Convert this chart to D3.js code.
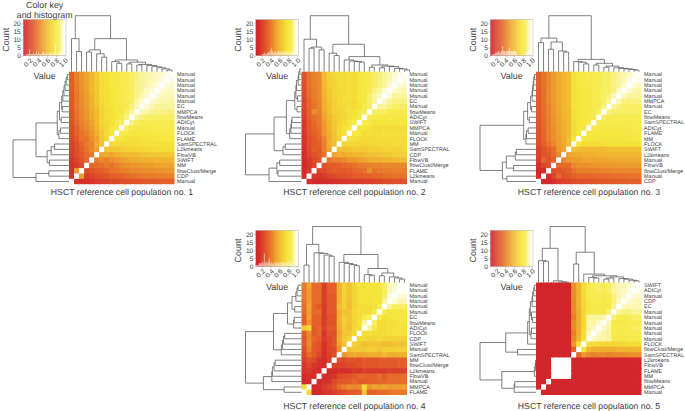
<!DOCTYPE html>
<html><head><meta charset="utf-8"><script src="https://cdn.jsdelivr.net/npm/d3@7"></script>
<style>html,body{margin:0;padding:0;background:#fff}svg{display:block}text{font-family:"Liberation Sans",Arial,sans-serif;text-rendering:geometricPrecision}</style>
</head><body><svg id="c" width="685" height="411"></svg>
<script>
const L = 0; // a leaf in a dendrogram
const titles = ["HSCT reference cell population no. 1","HSCT reference cell population no. 2","HSCT reference cell population no. 3","HSCT reference cell population no. 4","HSCT reference cell population no. 5"];
const labels1 = ["Manual","Manual","Manual","Manual","Manual","Manual","EC","MMPCA","flowMeans","ADICyt","Manual","FLOCK","FLAME","SamSPECTRAL","L2kmeans","FlowVB","SWIFT","MM","flowClust/Merge","CDP","Manual"];
const labels2 = ["Manual","Manual","Manual","Manual","Manual","EC","Manual","flowMeans","ADICyt","SWIFT","MMPCA","Manual","FLOCK","MM","SamSPECTRAL","CDP","FlowVB","flowClust/Merge","FLAME","L2kmeans","Manual"];
const labels3 = ["Manual","Manual","Manual","Manual","Manual","MMPCA","Manual","EC","flowMeans","SamSPECTRAL","ADICyt","FLAME","MM","FLOCK","SWIFT","L2kmeans","Manual","FlowVB","flowClust/Merge","Manual","CDP"];
const labels4 = ["Manual","Manual","Manual","Manual","Manual","Manual","EC","flowMeans","ADICyt","FLOCK","CDP","SWIFT","Manual","SamSPECTRAL","MM","flowClust/Merge","L2kmeans","FlowVB","Manual","MMPCA","FLAME"];
const labels5 = ["SWIFT","ADICyt","Manual","CDP","EC","Manual","Manual","Manual","Manual","Manual","Manual","FLOCK","flowClust/Merge","SamSPECTRAL","L2kmeans","FlowVB","FLAME","MM","flowMeans","MMPCA","Manual"];

// Upper-left triangles (percent similarity); the picture mirrors across the white diagonal.
const values1 = [
[33,42,48,52,58,66,74,76,80,82,84,86,88,90,92,93,94,95,96,98],
[32,42,48,52,58,66,74,76,80,82,84,86,88,90,92,93,94,95,97],
[32,41,47,52,58,66,73,76,80,82,84,86,88,91,92,93,95,97],
[31,41,47,52,58,65,73,76,79,82,84,86,88,91,92,95,97],
[30,40,46,50,57,65,72,76,78,80,83,86,88,91,94,96],
[30,40,46,50,56,64,72,75,78,80,83,85,88,93,96],
[29,39,45,50,56,63,70,75,77,80,82,84,90,94],
[28,38,44,48,54,60,70,74,76,79,81,88,92],
[27,37,44,48,54,60,70,74,76,79,86,90],
[26,36,42,46,52,60,70,73,76,84,88],
[25,33,41,44,50,58,68,72,80,84],
[24,33,38,42,48,55,66,74,78],
[23,30,38,38,46,52,66,72],
[21,28,34,40,42,54,64],
[20,26,32,38,44,52],
[18,25,30,36,40],
[16,22,28,34],
[14,18,24],
[14,50],
[15]];
const values2 = [
[28,38,42,44,60,68,72,74,74,76,74,78,82,84,88,90,92,94,96,98],
[26,38,42,44,60,68,70,74,74,76,74,78,80,84,88,90,92,94,97],
[26,38,42,44,60,68,70,74,74,76,74,78,80,84,88,90,92,96],
[25,37,41,44,58,66,70,72,74,76,74,78,82,84,90,92,97],
[25,36,41,44,58,66,70,72,74,76,74,78,80,88,92,95],
[22,34,40,43,56,64,68,72,74,74,72,78,82,88,92],
[22,34,38,43,56,62,68,72,72,74,74,76,84,88],
[20,33,46,42,54,62,68,70,72,76,76,82,86],
[19,32,37,40,52,60,66,70,72,74,78,84],
[18,30,35,40,50,58,66,70,74,78,82],
[18,30,34,38,48,58,66,72,76,80],
[17,28,32,36,48,56,64,72,76],
[16,26,30,34,44,54,64,70],
[15,26,30,32,42,56,62],
[14,24,32,30,42,52],
[13,22,28,30,38],
[12,18,24,28],
[11,16,22],
[12,18],
[13]];
const values3 = [
[32,38,44,50,54,58,62,76,80,82,84,84,86,88,88,90,92,93,95,98],
[32,38,44,50,54,58,62,76,80,82,84,84,86,88,88,90,92,94,97],
[32,38,44,50,54,58,62,76,79,82,82,84,86,88,88,90,92,96],
[31,37,44,50,54,58,62,76,79,80,82,84,86,88,88,90,95],
[31,37,44,50,54,58,62,76,78,80,82,84,86,88,90,94],
[30,37,44,49,54,58,62,76,78,80,82,84,86,88,92],
[30,36,43,49,53,58,62,76,78,80,82,84,86,90],
[29,36,43,49,53,58,60,75,78,80,82,84,88],
[29,36,42,48,52,57,60,75,78,80,82,86],
[28,35,42,48,52,56,60,74,78,80,84],
[28,35,42,47,52,56,60,74,78,82],
[27,34,42,46,52,56,60,74,80],
[26,34,42,46,50,54,62,78],
[25,32,38,44,50,54,62],
[22,28,32,36,48,52],
[20,27,30,36,44],
[18,34,28,34],
[14,22,26],
[11,13],
[12]];
const values4 = [
[40,52,36,36,20,32,32,56,70,64,70,76,76,78,78,78,88,94,96,99],
[40,50,36,36,20,32,32,56,70,64,70,76,76,78,78,78,88,94,97],
[40,50,36,36,20,30,30,56,68,64,70,76,76,76,78,78,88,97],
[38,50,36,36,20,30,30,56,68,62,70,76,76,76,78,78,92],
[36,52,34,30,18,30,30,60,68,60,70,74,74,74,76,86],
[36,50,34,36,18,30,30,56,64,64,72,74,74,74,84],
[32,52,32,32,18,28,28,56,68,64,70,74,84,88],
[32,48,32,32,18,28,28,56,68,64,70,76,92],
[66,72,30,34,20,30,30,54,66,62,72,74],
[32,46,30,34,16,28,26,52,66,66,72],
[30,44,34,30,18,24,28,54,66,70],
[30,46,30,28,14,24,28,52,64],
[26,42,30,26,14,22,24,48],
[24,36,30,24,14,20,26],
[20,26,24,16,12,20],
[16,22,16,14,12],
[16,18,14,12],
[12,14,13],
[11,12],
[74]];
const values5 = [
[10,10,10,10,10,10,10,46,58,74,84,86,88,86,88,92,94,94,96,98],
[10,10,10,10,10,10,10,46,58,74,84,86,88,86,88,92,94,95,97],
[10,10,10,10,10,10,10,46,58,74,84,86,86,84,86,90,94,96],
[10,10,10,10,10,10,10,44,58,72,82,84,84,82,84,90,95],
[10,10,10,10,10,10,10,44,58,72,82,84,84,82,84,92],
[10,10,10,10,10,10,10,44,56,72,82,84,84,82,90],
[10,10,10,10,10,10,10,42,56,72,92,92,92,94],
[10,10,10,10,10,10,10,44,56,72,93,93,95],
[10,10,10,10,10,10,10,44,56,72,93,95],
[10,10,10,10,10,10,10,42,56,74,95],
[10,10,10,10,10,10,10,44,58,76],
[10,10,10,10,10,10,10,48,76],
[10,10,10,10,10,10,10,34],
[10,10,10,10,10,10,10],
[10,10,10,100,100,100],
[10,10,10,100,100],
[10,10,10,100],
[10,10,10],
[10,10],
[10]];

// Dendrograms: [merge height, left, right]
const tree1 = [100,[59,L,[36,L,L]],[59,[39,[35,L,L],[32,L,[26,L,L]]],[21,[18,L,[15,L,L]],[17,[14,L,L],[13,[12,L,L],[11,L,[9,L,[7,L,[5,L,[3,L,L]]]]]]]]]];
const tree2 = [100,[58,L,[44,[42,L,L],[39,L,L]]],[49,[33,L,[29,L,L]],[27,[21,L,[19,L,[18,L,[17,L,L]]]],[12,[8,L,L],[10,[7,L,L],[9,L,[6,L,[5,L,[3,L,L]]]]]]]]];
const tree3 = [100,[60,[52,L,L],[53,[40,L,L],[37,L,[35,L,L]]]],[22,[18,L,[17,L,[14,L,L]]],[15,[12,L,L],[10,[8,L,L],[7,L,[6,L,[5,L,[4,L,[3,L,L]]]]]]]]];
const tree4 = [100,[68,[31,L,L],[53,L,[52,L,[49,L,[47,L,L]]]]],[50,[36,L,[34,L,[32,L,[30,L,L]]]],[25,[14,L,[13,L,L]],[17,[12,L,L],[10,L,[8,L,[6,L,L]]]]]]];
const tree5 = [100,[61,[39,L,[38,L,L]],[3,L,[1,L,[1,L,L]]]],[54,[33,L,L],[15,L,[12,[9,L,[8,L,L]],[10,[8,[6,L,L],L],[7,L,[6,L,[4,L,[3,L,L]]]]]]]]];

// Histogram counts in the colour keys
const hist1 = [0,0,0,1,1,1,4,1,1,1,2,1,1,3,1,2,1,1,1,2,2,1,1,2,1,1,2,2,1,1,2,2,7,1,2,1,2,3,2,1,4,1,1];
const hist2 = [0,0,0,0,0,0,1,1,2,1,1,2,2,2,3,5,3,2,2,3,2,2,3,3,2,3,2,2,3,3,2,3,2,2,2,3,2,3,3,2,1,2,1];
const hist3 = [0,0,1,1,1,2,2,2,3,2,2,3,6,3,3,2,3,3,3,5,3,3,3,3,3,3,2,0,0,0,0,0,0,0,1,1,3,2,4,3,3,3,4];
const hist4 = [1,1,1,2,2,2,3,2,8,2,3,2,3,5,2,3,2,2,1,3,2,2,3,2,2,3,2,3,2,2,3,2,2,4,2,2,3,2,1,1,2,1,1];
const hist5 = [];

const heatX = [69,301.5,536,301.5,536];
const heatY = [71.7,71.7,71.7,282.5,282.5];
const titleY = [195.5,195.5,195.5,409,409];
const allLabels=[labels1,labels2,labels3,labels4,labels5], allValues=[values1,values2,values3,values4,values5],
      allTrees=[tree1,tree2,tree3,tree4,tree5], allHist=[hist1,hist2,hist3,hist4,hist5];

const W=105.5,H=112.5,N=21,KW=42.7,KH=36,INK="#4a4a4a",TXT="#3c3c3c";
const color=d3.scaleLinear().domain([.1,.325,.55,.775,.87,.93,1]).range(["#d2262b","#e4602a","#f0ae2f","#f5e63a","#f7ec55","#fbf6a8","#ffffff"]).clamp(true);
const svg=d3.select("#c");

allValues.forEach((tri,p)=>{
  const g=svg.append("g").attr("transform",`translate(${heatX[p]},${heatY[p]})`);
  const x=d3.scaleBand().domain(d3.range(N)).range([0,W]);
  const y=d3.scaleBand().domain(d3.range(N)).range([0,H]);
  const at=(r,j)=>{ if(r+j===N-1) return 100; return r+j<N-1 ? tri[r][j] : tri[N-1-j][N-1-r]; };
  const cells=d3.cross(d3.range(N),d3.range(N)).map(([r,j])=>({r,j,v:at(r,j)}));
  g.selectAll("rect.cell").data(cells).join("rect").attr("class","cell")
    .attr("x",d=>x(d.j)).attr("y",d=>y(d.r))
    .attr("width",d=>x.bandwidth()+(d.j<N-1?1:0)).attr("height",d=>y.bandwidth()+(d.r<N-1?1:0))
    .attr("fill",d=>color(d.v/100));
  g.selectAll("text.lab").data(allLabels[p]).join("text").attr("class","lab")
    .attr("x",W+2.6).attr("y",(d,i)=>y(i)+y.bandwidth()/2).attr("dy",".34em")
    .attr("font-size",5.45).attr("fill",TXT).text(d=>d);
  // dendrograms
  const h=d3.scaleLinear().domain([0,100]).range([0,56]);
  const root=d3.hierarchy(allTrees[p],d=>Array.isArray(d)?d.slice(1):null);
  root.leaves().forEach((l,i)=>{l.pos=i;});
  root.eachAfter(n=>{ if(n.children) n.pos=d3.mean(n.children,c=>c.pos); n.ht=Array.isArray(n.data)?n.data[0]:0; });
  const cx=i=>x(0)+(i+.5)*x.bandwidth(), cy=i=>(N-1-i+.5)*y.bandwidth();
  const links=root.descendants().filter(n=>n.children);
  g.selectAll("path.top").data(links).join("path").attr("class","top").attr("fill","none").attr("stroke",INK).attr("stroke-width",.7)
    .attr("d",n=>{const [a,b]=n.children;return `M${cx(a.pos)},${-h(a.ht)}V${-h(n.ht)}H${cx(b.pos)}V${-h(b.ht)}`;});
  g.selectAll("path.left").data(links).join("path").attr("class","left").attr("fill","none").attr("stroke",INK).attr("stroke-width",.7)
    .attr("d",n=>{const [a,b]=n.children;return `M${-h(a.ht)},${cy(a.pos)}H${-h(n.ht)}V${cy(b.pos)}H${-h(b.ht)}`;});
  // title
  g.append("text").attr("x",53).attr("y",titleY[p]-heatY[p]).attr("text-anchor","middle").attr("font-size",8.7).attr("fill",TXT).text(titles[p]);
  // colour key
  const kx=heatX[p]-45.7, ky=heatY[p]-52;
  const k=svg.append("g").attr("transform",`translate(${kx},${ky})`);
  const kX=d3.scaleLinear().domain([.06,1.03]).range([0,KW]);
  const kY=d3.scaleLinear().domain([0,22.2]).range([KH,0]);
  const bins=d3.range(KW*1.0).map(i=>i);
  k.selectAll("rect.g").data(bins).join("rect").attr("class","g").attr("x",d=>d).attr("y",0).attr("width",d=>Math.min(1.3,KW-d)).attr("height",KH)
    .attr("fill",d=>color(kX.invert(d+.5)));
  const hb=d3.scaleBand().domain(d3.range(43)).range([0,KW]);
  k.selectAll("rect.h").data(allHist[p]).join("rect").attr("class","h").attr("x",(d,i)=>hb(i)+.15).attr("width",hb.bandwidth()-.3)
    .attr("y",d=>kY(d)).attr("height",d=>KH-kY(d)).attr("fill","#fff").attr("fill-opacity",.8);
  k.append("rect").attr("width",KW).attr("height",KH).attr("fill","none").attr("stroke","#999").attr("stroke-width",.4);
  const ay=k.append("g").call(d3.axisLeft(kY).tickValues([0,5,10,15,20]).tickSize(1.5));
  ay.select(".domain").remove(); ay.selectAll("line").attr("stroke","#777").attr("stroke-width",.4);
  ay.selectAll("text").attr("font-size",6.6).attr("fill",TXT).attr("x",-2.5);
  const ax=k.append("g").attr("transform",`translate(0,${KH})`).call(d3.axisBottom(kX).tickValues([.2,.4,.6,.8,1]).tickFormat(d3.format(".1f")).tickSize(1.5));
  ax.select(".domain").remove(); ax.selectAll("line").attr("stroke","#777").attr("stroke-width",.4);
  ax.selectAll("text").attr("font-size",6.6).attr("fill",TXT).attr("text-anchor","end").attr("dy",0).attr("y",0)
    .attr("transform","translate(1.5,3.5) rotate(-45) translate(0,2.3)").attr("x",0);
  k.append("text").attr("transform",`translate(-14.5,${KH/2+2}) rotate(-90)`).attr("text-anchor","middle").attr("font-size",9).attr("fill",TXT).text("Count");
  k.append("text").attr("x",KW/2).attr("y",KH+23).attr("text-anchor","middle").attr("font-size",9).attr("fill",TXT).text("Value");
  if(p===0){
    k.append("text").attr("x",KW/2).attr("y",-12).attr("text-anchor","middle").attr("font-size",8.8).attr("fill",TXT).text("Color key");
    k.append("text").attr("x",KW/2).attr("y",-1.5).attr("text-anchor","middle").attr("font-size",8.8).attr("fill",TXT).text("and histogram");
  }
});
</script></body></html>
